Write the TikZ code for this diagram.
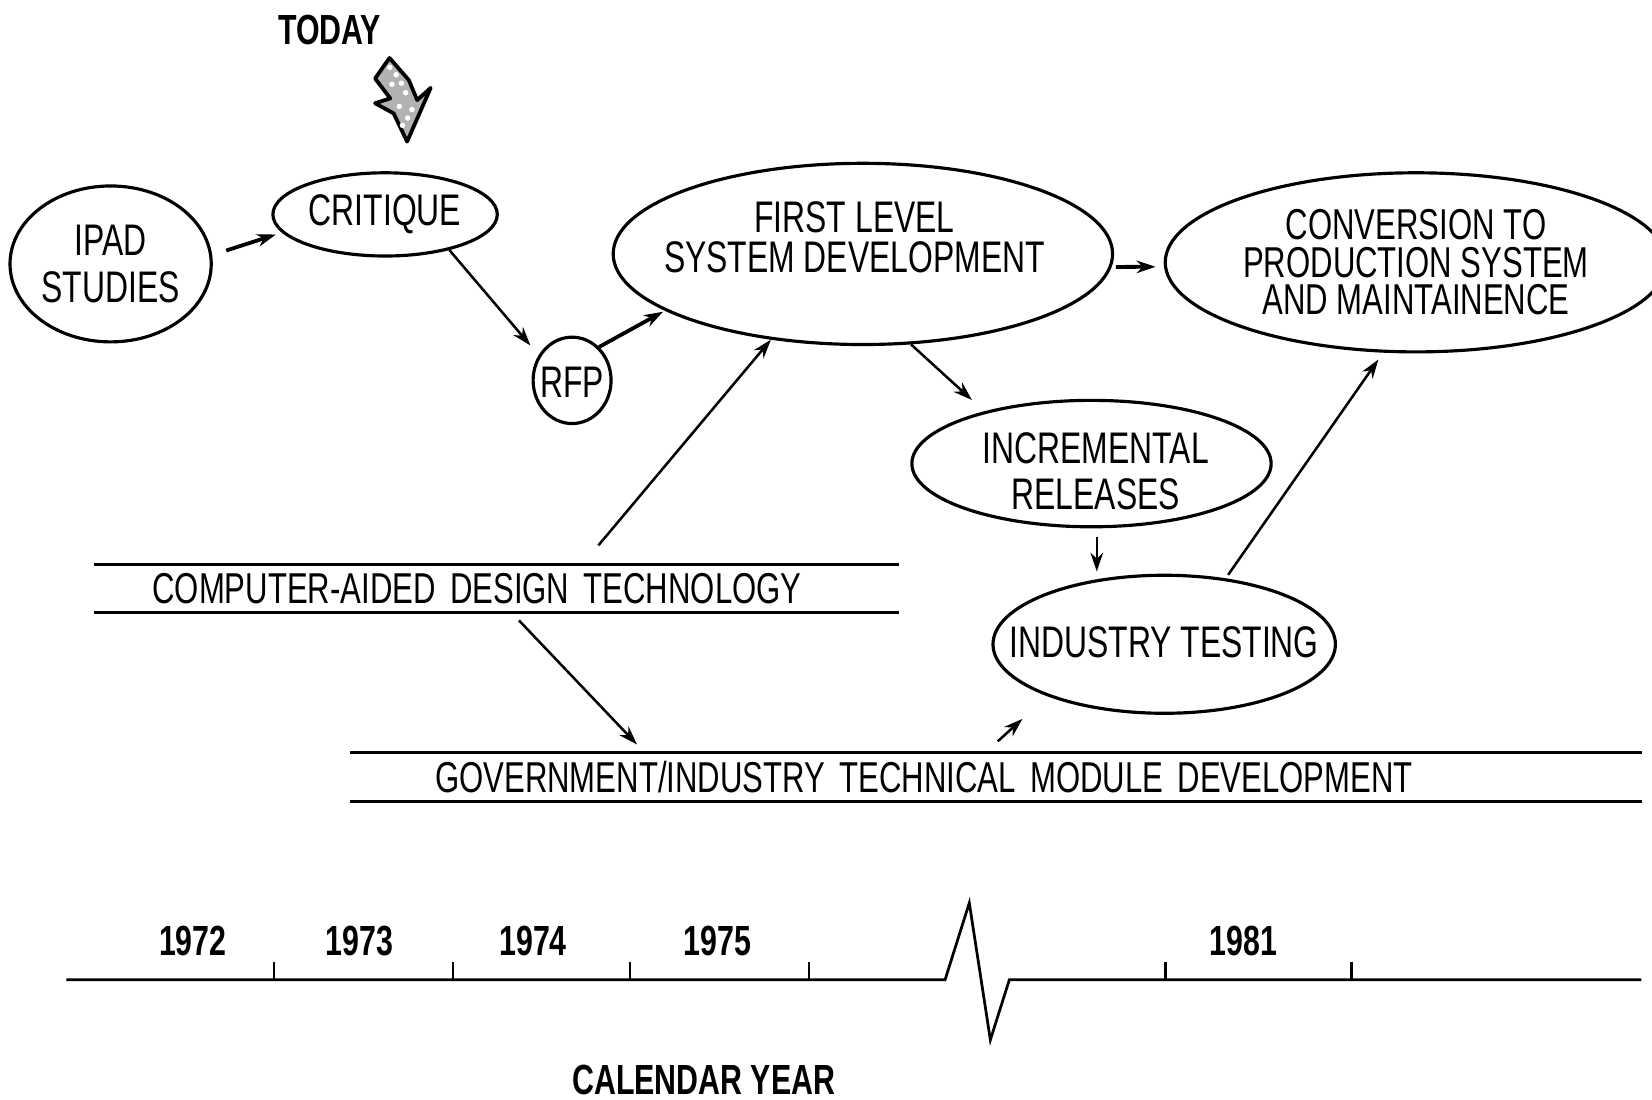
\documentclass[tikz,border=0pt]{standalone}
\usepackage{fontspec}
\setmainfont{Liberation Sans}[FakeStretch=0.72]
\usetikzlibrary{shapes.geometric,arrows.meta}
\begin{document}
\begin{tikzpicture}[x=0.5pt,y=-0.5pt,
  lbl/.style={font=\fontsize{21}{22}\selectfont, align=center, inner sep=0pt},
  oval/.style={ellipse, draw, line width=1.5pt, inner sep=0pt},
  arr/.style={line width=1.2pt, -{Stealth[length=9pt,width=6pt]}},
  arrthick/.style={arr, line width=1.8pt},
  barnode/.style={inner ysep=0pt, font=\fontsize{20.5}{22}\selectfont, align=left},
  barline/.style={line width=1.5pt},
  yr/.style={font=\fontsize{20}{24}\selectfont\bfseries, inner sep=0pt},
]
\useasboundingbox (0,0) rectangle (1568,1044);

% TODAY marker
\node[yr] (today) at (313,28) {TODAY};
\filldraw[line width=1.8pt, fill=black!30, line join=round]
  (356,74.5) -- (369.7,55) -- (388,76) -- (396,95) -- (408.8,83.4) -- (386.4,134.4)
  -- (373.6,107.6) -- (356,98) -- (370.4,93.4) -- cycle;
\foreach \p in {(370,64),(376,71),(381,79),(372,80),(385,88),(379,101),(387,112),(382,119),(391,104)}
  \fill[white] \p circle (1.3pt);

% ovals
\node[oval, minimum width=95.5pt, minimum height=74pt] (ipad) at (105,250.5) {};
\node[lbl, font=\fontsize{21}{22.25}\selectfont] (ipadt) at (ipad.center) {IPAD\\STUDIES};
\node[oval, minimum width=106.5pt, minimum height=39.5pt] (crit) at (365.5,203.5) {};
\node[lbl] (critt) at (crit.center) {CRITIQUE};
\node[oval, minimum width=37pt, minimum height=41pt] (rfp) at (543,361) {};
\node[lbl] (rfpt) at ([yshift=-1pt]rfp.center) {RFP};
\node[oval, minimum width=237pt, minimum height=86pt] (first) at (819,241) {};
\node[lbl, font=\fontsize{21}{18.75}\selectfont] (firstt) at ([xshift=-4pt,yshift=8pt]first.center) {FIRST LEVEL\\SYSTEM DEVELOPMENT};
\node[oval, minimum width=238pt, minimum height=85pt] (conv) at (1344,249) {};
\node[lbl, font=\fontsize{20.5}{17.75}\selectfont] (convt) at (conv.center) {CONVERSION TO\\PRODUCTION SYSTEM\\AND MAINTAINENCE};
\node[oval, minimum width=170.5pt, minimum height=60pt] (incr) at (1036,440) {};
\node[lbl, font=\fontsize{21}{22}\selectfont] (incrt) at ([xshift=2pt,yshift=-3.5pt]incr.center) {INCREMENTAL\\RELEASES};
\node[oval, minimum width=162.5pt, minimum height=65.5pt] (ind) at (1105,611.5) {};
\node[lbl] (indt) at ([yshift=1pt]ind.center) {INDUSTRY TESTING};

% bars
\node[barnode, inner xsep=27.5pt, text width=326.7pt, minimum height=22.5pt] (cad) at (471.3,558.5) {COMPUTER-AIDED DESIGN TECHNOLOGY};
\draw[barline] (cad.north west) -- (cad.north east);
\draw[barline] (cad.south west) -- (cad.south east);
\node[barnode, inner xsep=40pt, text width=532.5pt, minimum height=22.65pt] (gov) at (945.5,737.35) {GOVERNMENT/INDUSTRY TECHNICAL MODULE DEVELOPMENT};
\draw[barline] (gov.north west) -- (gov.north east);
\draw[barline] (gov.south west) -- (gov.south east);

% connectors
\draw[arrthick, shorten <=7pt, shorten >=3pt] (ipad.5) -- (crit.190);
\draw[arr, shorten >=6pt] (crit.-29) -- (rfp.143);
\draw[arrthick, shorten >=1pt] (rfp.51) -- (first.196);
\draw[arr] ([xshift=48.35pt,yshift=9pt]cad.north) -- (first.223);
\draw[arr, shorten >=8pt] (first.-62.5) -- (incr.154.4);
\draw[arrthick, shorten <=2pt, shorten >=4pt] (first.-3) -- (conv.181);
\draw[arr, shorten <=4pt, shorten >=1pt] ([xshift=2.5pt]incr.south) -- ([xshift=-32pt]ind.north);
\draw[arr] ([xshift=10.65pt,yshift=-3.75pt]cad.south) -- ([xshift=-170.45pt,yshift=3.85pt]gov.north);
\draw[arr, shorten >=16pt] ([xshift=0.75pt,yshift=5.35pt]gov.north) -- (ind.204.4);
\draw[arr, shorten <=2pt, shorten >=4pt] (ind.47.7) -- (conv.250.8);

% timeline
\draw[line width=1.3pt, line join=miter]
  (63,930) -- (897,930) -- (920,857) -- (940,987) -- (958,930) -- (1558,930);
\foreach \x in {260,430,598,768,1106,1283}
  \draw[line width=1.2pt] (\x,930) -- (\x,913);
\node[yr] (y72) at (183,893) {1972};
\node[yr] (y73) at (341,893) {1973};
\node[yr] (y74) at (506,893) {1974};
\node[yr] (y75) at (681,893) {1975};
\node[yr] (y81) at (1180,893) {1981};
\node[yr] (cal) at (668,1025) {CALENDAR YEAR};
\end{tikzpicture}
\end{document}
